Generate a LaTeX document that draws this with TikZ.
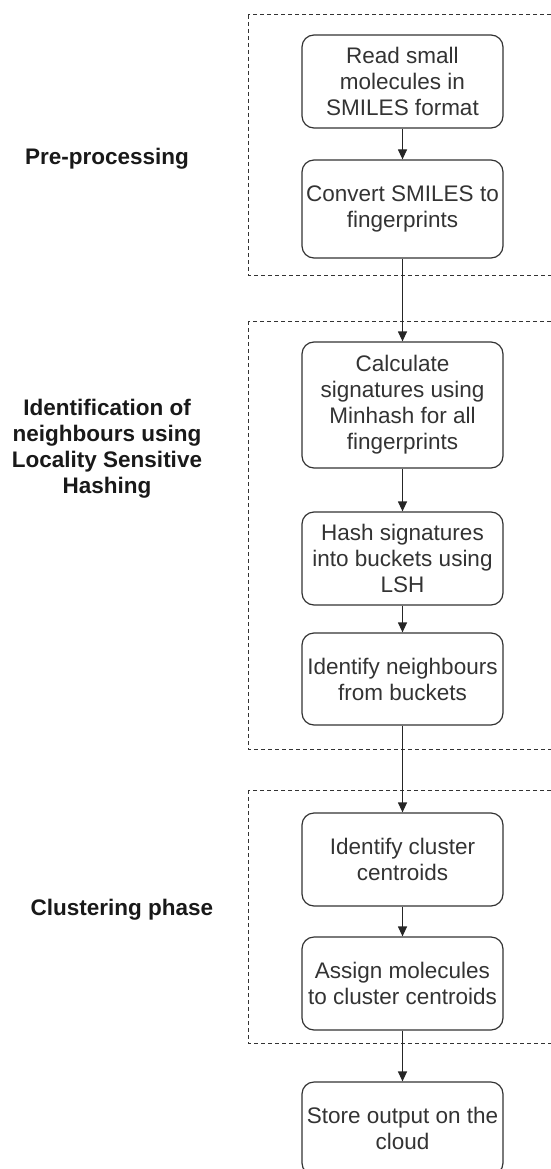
\documentclass[tikz,border=0pt]{standalone}
\usepackage{fontspec}
\setmainfont{Liberation Sans}
\usetikzlibrary{arrows.meta}

\begin{document}
\begin{tikzpicture}[x=1pt,y=-1pt,
        stepbox/.style={draw=black!80, line width=1.2pt, rounded corners=12pt,
            minimum width=201pt, align=center, inner sep=1pt,
            text=black!80, font=\fontsize{22.5}{26}\selectfont},
        phase/.style={draw=black!80, line width=1pt, dash pattern=on 4pt off 3pt},
        phaselabel/.style={align=center, text=black!90,
            font=\bfseries\fontsize{22.5}{26}\selectfont},
        flow/.style={-{Triangle[length=10pt,width=9pt]}, line width=1.2pt, draw=black!85}]
        \useasboundingbox (0,0) rectangle (551,1169);
        \clip (0,0) rectangle (551,1169);

        % Draw the dashed phase frames
        \draw[phase] (248,15) rectangle (570,275);
        \draw[phase] (248,321) rectangle (570,749);
        \draw[phase] (248,790) rectangle (570,1043);

        % Phase labels
        \node[phaselabel] (pre) at (107,159) {Pre-processing};
        \node[phaselabel] (lsh) at (107,449) {Identification of\\neighbours using\\Locality Sensitive\\Hashing};
        \node[phaselabel] (clu) at (122,910) {Clustering phase};

        % Steps
        \node[stepbox, minimum height=93pt] (read) at (402.5,81.5) {Read small\\molecules in\\SMILES format};
        \node[stepbox, minimum height=98pt] (conv) at (402.5,209) {Convert SMILES to\\fingerprints};
        \node[stepbox, minimum height=126pt] (sig) at (402.5,405) {Calculate\\signatures using\\Minhash for all\\fingerprints};
        \node[stepbox, minimum height=93pt] (hash) at (402.5,558.5) {Hash signatures\\into buckets using\\LSH};
        \node[stepbox, minimum height=92pt] (nbr) at (402.5,679) {Identify neighbours\\from buckets};
        \node[stepbox, minimum height=93pt] (cent) at (402.5,859.5) {Identify cluster\\centroids};
        \node[stepbox, minimum height=93pt] (assign) at (402.5,983.5) {Assign molecules\\to cluster centroids};
        \node[stepbox, minimum height=93pt] (store) at (402.5,1128.5) {Store output on the\\cloud};

        % Connectors
        \draw[flow] (read) -- (conv);
        \draw[flow] (conv) -- (sig);
        \draw[flow] (sig) -- (hash);
        \draw[flow] (hash) -- (nbr);
        \draw[flow] (nbr) -- (cent);
        \draw[flow] (cent) -- (assign);
        \draw[flow] (assign) -- (store);
\end{tikzpicture}
\end{document}
